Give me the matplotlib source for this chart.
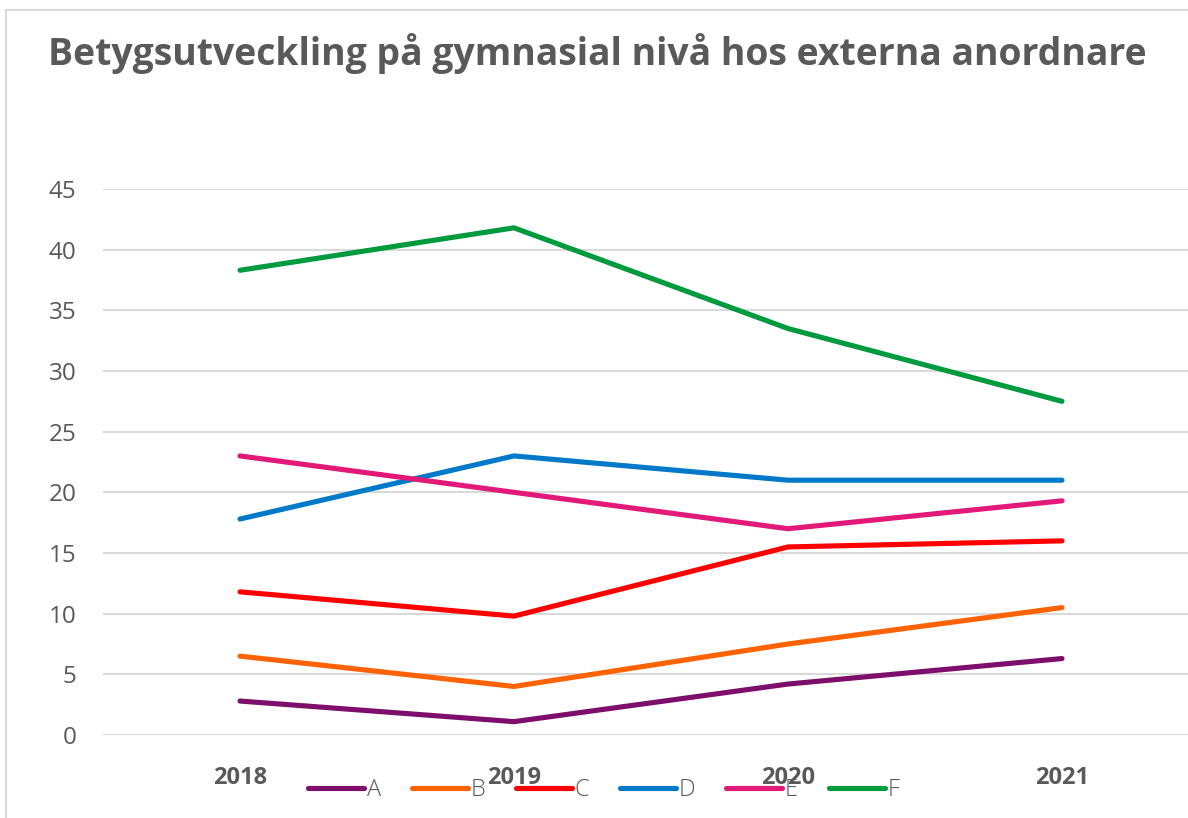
import matplotlib
matplotlib.use("Agg")
import matplotlib.pyplot as plt
from matplotlib.lines import Line2D

years = ["2018", "2019", "2020", "2021"]
series_names = ["A", "B", "C", "D", "E", "F"]
A = [2.8, 1.1, 4.2, 6.3]
B = [6.5, 4.0, 7.5, 10.5]
C = [11.8, 9.8, 15.5, 16.0]
D = [17.8, 23.0, 21.0, 21.0]
E = [23.0, 20.0, 17.0, 19.3]
F = [38.3, 41.8, 33.5, 27.5]
colors = ["#7D0E6C", "#FF6200", "#FF0000", "#0079C9", "#E3197A", "#009A3E"]
yticks = [0, 5, 10, 15, 20, 25, 30, 35, 40, 45]

plt.rcParams["font.family"] = ["Open Sans", "DejaVu Sans"]

fig = plt.figure(figsize=(11.88, 8.18), dpi=100)
W, H = 1188, 818
# frame lines
fig.add_artist(Line2D([6 / W, 6 / W], [0, 1 - 10 / H], color="#D9D9D9", lw=1.5, transform=fig.transFigure))
fig.add_artist(Line2D([6 / W, 1], [1 - 10 / H, 1 - 10 / H], color="#D9D9D9", lw=1.5, transform=fig.transFigure))

ax = fig.add_axes([103 / W, 83 / H, 1096 / W, 546 / H])
data = [A, B, C, D, E, F]
x = list(range(len(years)))
for name, vals, col in zip(series_names, data, colors):
    ax.plot(x, vals, color=col, lw=3.7, solid_capstyle="round", solid_joinstyle="round", label=name, zorder=3)

ax.set_xlim(-0.5, 3.5)
ax.set_ylim(0, 45)
ax.set_yticks(yticks)
ax.set_yticklabels([str(v) for v in yticks], fontsize=17.5, color="#595959")
ax.set_xticks(x)
ax.set_xticklabels(years, fontsize=17, color="#595959", fontweight="bold")
ax.tick_params(axis="both", length=0)
ax.tick_params(axis="y", pad=19)
ax.tick_params(axis="x", pad=22)
ax.grid(axis="y", color="#D9D9D9", lw=1.5, zorder=0)
ax.set_axisbelow(True)
for s in ax.spines.values():
    s.set_visible(False)

fig.text(48 / W, 1 - 53 / H, "Betygsutveckling på gymnasial nivå hos externa anordnare",
         fontsize=26.9, fontweight="bold", color="#595959", va="center", ha="left")

leg = fig.legend(loc="center left", bbox_to_anchor=(308 / W, 1 - 790 / H), ncol=6, frameon=False,
                 handlelength=2.37, handletextpad=0.12, columnspacing=1.3,
                 borderpad=0, borderaxespad=0,
                 prop={"family": ["Open Sans", "DejaVu Sans"], "size": 17, "weight": "light"})
for t in leg.get_texts():
    t.set_color("#595959")

fig.savefig("out.png", dpi=100)
